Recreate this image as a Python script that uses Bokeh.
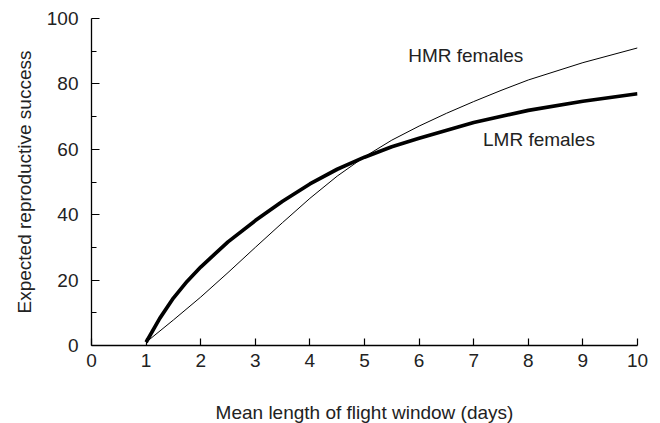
from bokeh.plotting import figure
from bokeh.models import Range1d, FixedTicker, Label
from bokeh.embed import file_html
from bokeh.resources import INLINE

# Data
lmr_x = [1, 1.25, 1.5, 1.75, 2, 2.5, 3, 3.5, 4, 4.5, 5, 5.5, 6, 7, 8, 9, 10]
lmr_y = [1, 8.3, 14.5, 19.6, 24, 31.7, 38.2, 44.1, 49.4, 53.9, 57.6, 60.8, 63.4, 68.2, 71.9, 74.7, 77]

hmr_x = [1, 1.5, 2, 2.5, 3, 3.5, 4, 4.5, 5, 5.5, 6, 6.5, 7, 7.5, 8, 9, 10]
hmr_y = [1, 7.8, 14.8, 22.3, 30, 37.6, 45, 51.8, 57.7, 62.8, 67.1, 71, 74.6, 78, 81.2, 86.5, 91]

x_ticks = [0, 1, 2, 3, 4, 5, 6, 7, 8, 9, 10]
y_ticks = [0, 20, 40, 60, 80, 100]
y_minor = [10, 30, 50, 70, 90]

FONT = "Liberation Sans"
TXT = "#222222"
FS = "19px"

p = figure(output_backend="svg", toolbar_location=None,
           frame_width=546, frame_height=327,
           min_border_left=91, min_border_top=18, min_border_right=15, min_border_bottom=70,
           x_range=Range1d(0, 10), y_range=Range1d(0, 100))
p.outline_line_color = None
p.grid.visible = False
p.background_fill_color = "white"
p.border_fill_color = "white"

p.line(hmr_x, hmr_y, line_color="black", line_width=1)
p.line(lmr_x, lmr_y, line_color="black", line_width=3.7, line_join="round")

for ax in (p.xaxis[0], p.yaxis[0]):
    ax.axis_line_color = "black"
    ax.axis_line_width = 1.3
    ax.major_tick_line_color = "black"
    ax.major_tick_line_width = 1.2
    ax.major_tick_out = 0
    ax.major_tick_in = 8
    ax.minor_tick_out = 0
    ax.major_label_text_font = FONT
    ax.major_label_text_font_size = FS
    ax.major_label_text_color = TXT
    ax.axis_label_text_font = FONT
    ax.axis_label_text_font_size = FS
    ax.axis_label_text_font_style = "normal"
    ax.axis_label_text_color = TXT

p.xaxis[0].ticker = FixedTicker(ticks=x_ticks)
p.xaxis[0].minor_tick_line_color = None
p.xaxis[0].major_tick_in = 7
p.xaxis[0].major_label_standoff = 8
p.xaxis[0].axis_label = "Mean length of flight window (days)"
p.xaxis[0].axis_label_standoff = 32

p.yaxis[0].ticker = FixedTicker(ticks=y_ticks, minor_ticks=y_minor)
p.yaxis[0].minor_tick_line_color = "black"
p.yaxis[0].minor_tick_line_width = 1.2
p.yaxis[0].minor_tick_in = 5
p.yaxis[0].major_label_standoff = 13
p.yaxis[0].axis_label = "Expected reproductive success"
p.yaxis[0].axis_label_standoff = 9

p.add_layout(Label(x=5.8, y=88.7, text="HMR females", text_font=FONT,
                   text_font_size=FS, text_color=TXT, text_baseline="middle"))
p.add_layout(Label(x=7.17, y=63.1, text="LMR females", text_font=FONT,
                   text_font_size=FS, text_color=TXT, text_baseline="middle"))

open("out.html", "w").write(file_html(p, INLINE))
